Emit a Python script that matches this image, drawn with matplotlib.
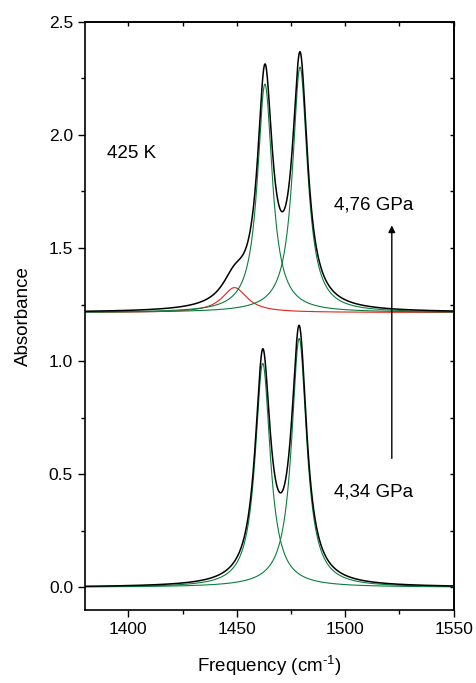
# Import libraries
import numpy as np
import matplotlib.pyplot as plt
from matplotlib.ticker import MultipleLocator

plt.rcParams['font.family'] = ['Liberation Sans', 'DejaVu Sans']
plt.rcParams['mathtext.fontset'] = 'custom'
plt.rcParams['mathtext.rm'] = 'Liberation Sans'



# Fitted Lorentzian components (center, half width, height)
# 4,34 GPa spectrum
low_base = 0.0
low_centers = [1462.0, 1478.8]
low_hwhm = [4.2, 4.2]
low_heights = [0.99, 1.10]

# 4,76 GPa spectrum (offset)
high_base = 1.215
high_centers = [1463.0, 1479.2]
high_hwhm = [4.15, 4.15]
high_heights = [1.01, 1.085]
red_center = 1449.0
red_hwhm = 7.0
red_height = 0.11

x = np.linspace(1380, 1550, 2000)


def lorentz(x, x0, g, a):
    return a * g**2 / ((x - x0)**2 + g**2)


fig, ax = plt.subplots(figsize=(4.77, 6.83), dpi=100)
fig.subplots_adjust(left=0.178, right=0.951, top=0.968, bottom=0.107)

green = '#0b7d3e'
red = '#e3221c'

# --- lower spectrum ---
low_parts = [lorentz(x, c, g, a) for c, g, a in zip(low_centers, low_hwhm, low_heights)]
for p in low_parts:
    ax.plot(x, low_base + p, color=green, lw=0.8)
ax.plot(x, low_base + sum(low_parts), color='black', lw=1.1)

# --- upper spectrum ---
high_parts = [lorentz(x, c, g, a) for c, g, a in zip(high_centers, high_hwhm, high_heights)]
red_part = lorentz(x, red_center, red_hwhm, red_height)
ax.plot(x, high_base + red_part, color=red, lw=0.8)
for p in high_parts:
    ax.plot(x, high_base + p, color=green, lw=0.8)
ax.plot(x, high_base + sum(high_parts) + red_part, color='black', lw=1.1)

# labels and arrow
ax.text(1390, 1.92, "425 K", fontsize=13.5, va='center')
ax.text(1495, 1.69, "4,76 GPa", fontsize=13.5, va='center')
ax.text(1495, 0.42, "4,34 GPa", fontsize=13.5, va='center')
ax.annotate("", xy=(1521.5, 1.6), xytext=(1521.5, 0.57),
            arrowprops=dict(arrowstyle='-|>', color='black', lw=1.0,
                            mutation_scale=10, shrinkA=0, shrinkB=0))

ax.set_xlim(1380, 1550)
ax.set_ylim(-0.1, 2.5)
ax.xaxis.set_major_locator(MultipleLocator(50))
ax.xaxis.set_minor_locator(MultipleLocator(25))
ax.yaxis.set_major_locator(MultipleLocator(0.5))
ax.yaxis.set_minor_locator(MultipleLocator(0.25))
ax.yaxis.set_major_formatter(plt.FormatStrFormatter('%.1f'))

ax.tick_params(which='both', direction='out', labelsize=12.5, width=1.0)
ax.tick_params(which='major', length=5)
ax.tick_params(which='minor', length=3)

# mirror ticks pointing inward on top and right
top = ax.secondary_xaxis('top')
top.xaxis.set_major_locator(MultipleLocator(50))
top.xaxis.set_minor_locator(MultipleLocator(25))
top.tick_params(which='both', direction='in', labeltop=False, length=3, width=1.0)
right = ax.secondary_yaxis('right')
right.yaxis.set_major_locator(MultipleLocator(0.5))
right.yaxis.set_minor_locator(MultipleLocator(0.25))
right.tick_params(which='both', direction='in', labelright=False, length=3, width=1.0)

ax.set_xlabel(r"Frequency (cm$^{\text{-}1}$)", fontsize=13.5, labelpad=12)
ax.set_ylabel("Absorbance", fontsize=13.5, labelpad=12)

for spine in ax.spines.values():
    spine.set_linewidth(1.2)
    spine.set_color('black')
for spine in list(top.spines.values()) + list(right.spines.values()):
    spine.set_linewidth(1.2)

fig.savefig("out.png", dpi=100)
